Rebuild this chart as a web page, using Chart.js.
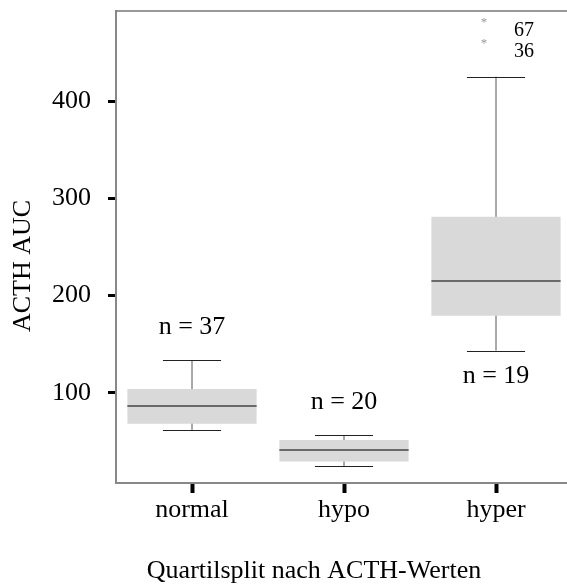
<!DOCTYPE html>
<html>
<head>
<meta charset="utf-8">
<script src="https://cdn.jsdelivr.net/npm/chart.js@4.4.1/dist/chart.umd.min.js"></script>
<style>
    html, body { margin: 0; padding: 0; background: #fff; overflow: hidden; width: 567px; height: 586px; }
    #wrap { width: 576px; height: 586px; }
</style>
</head>
<body>
<div id="wrap"><canvas id="grafico-box"></canvas></div>
<script>
const categorias = ['normal', 'hypo', 'hyper'];
const minimos = [62, 24.8, 143.6];
const quartil1 = [68.5, 29.5, 179.4];
const medianas = [86.7, 41.5, 215];
const quartil3 = [104, 51.7, 281];
const maximos = [134, 56.6, 425];
const contagens = [37, 20, 19];
const posicaoN = ['above', 'above', 'below'];
// ausreißer: [kategorie, wert, fallnummer]
const ausreisser = [[2, 483.2, '67'], [2, 462.2, '36']];
const yTicks = [100, 200, 300, 400];
const tituloX = 'Quartilsplit nach ACTH-Werten';
const tituloY = 'ACTH AUC';

const serif = "'Liberation Serif', 'DejaVu Serif', serif";

// Desenha bigodes, mediana, outliers, rótulos n = ... e títulos dos eixos
const boxExtras = {
    id: 'boxExtras',
    afterDatasetsDraw(chart) {
        const { ctx, chartArea, scales: { x, y } } = chart;
        const meta = chart.getDatasetMeta(0);
        ctx.save();

        // linha superior da moldura
        ctx.strokeStyle = '#777';
        ctx.lineWidth = 1.5;
        ctx.beginPath();
        ctx.moveTo(chartArea.left, chartArea.top);
        ctx.lineTo(chartArea.right, chartArea.top);
        ctx.stroke();

        categorias.forEach((_, i) => {
            const cx = x.getPixelForValue(i);
            const half = meta.data[i].width / 2;
            const cap = half * 0.45;

            ctx.strokeStyle = '#555';
            ctx.lineWidth = 1;
            ctx.beginPath();
            ctx.moveTo(cx, y.getPixelForValue(quartil3[i]));
            ctx.lineTo(cx, y.getPixelForValue(maximos[i]));
            ctx.moveTo(cx, y.getPixelForValue(quartil1[i]));
            ctx.lineTo(cx, y.getPixelForValue(minimos[i]));
            ctx.stroke();

            ctx.strokeStyle = '#222';
            ctx.lineWidth = 1.2;
            ctx.beginPath();
            ctx.moveTo(cx - cap, Math.round(y.getPixelForValue(maximos[i])) + 0.5);
            ctx.lineTo(cx + cap, Math.round(y.getPixelForValue(maximos[i])) + 0.5);
            ctx.moveTo(cx - cap, Math.round(y.getPixelForValue(minimos[i])) + 0.5);
            ctx.lineTo(cx + cap, Math.round(y.getPixelForValue(minimos[i])) + 0.5);
            ctx.stroke();

            ctx.strokeStyle = '#444';
            ctx.lineWidth = 1.5;
            ctx.beginPath();
            ctx.moveTo(cx - half, y.getPixelForValue(medianas[i]));
            ctx.lineTo(cx + half, y.getPixelForValue(medianas[i]));
            ctx.stroke();

            ctx.fillStyle = '#000';
            ctx.font = '26px ' + serif;
            ctx.textAlign = 'center';
            ctx.textBaseline = 'middle';
            const ny = posicaoN[i] === 'above'
                ? y.getPixelForValue(maximos[i]) - 33
                : y.getPixelForValue(minimos[i]) + 26;
            ctx.fillText('n = ' + contagens[i], cx, ny);
        });

        ausreisser.forEach(([cat, valor, nr]) => {
            const px = x.getPixelForValue(cat) - 12;
            const py = y.getPixelForValue(valor);
            ctx.fillStyle = '#999';
            ctx.font = '13px ' + serif;
            ctx.textAlign = 'center';
            ctx.textBaseline = 'middle';
            ctx.fillText('*', px, py + 3);
            ctx.fillStyle = '#000';
            ctx.font = '20px ' + serif;
            ctx.textAlign = 'left';
            ctx.fillText(nr, px + 30, py + 11);
        });

        // títulos dos eixos
        ctx.fillStyle = '#000';
        ctx.font = '26px ' + serif;
        ctx.textAlign = 'center';
        ctx.textBaseline = 'middle';
        ctx.fillText(tituloX, 314, 571);
        ctx.translate(23, 266);
        ctx.rotate(-Math.PI / 2);
        ctx.fillText(tituloY, 0, 0);
        ctx.restore();
    }
};

new Chart(document.getElementById('grafico-box'), {
    type: 'bar',
    data: {
        labels: categorias,
        datasets: [{
            data: quartil1.map((q, i) => [q, quartil3[i]]),
            backgroundColor: '#d9d9d9',
            borderWidth: 0,
            barPercentage: 0.85,
            categoryPercentage: 1
        }]
    },
    options: {
        responsive: true,
        maintainAspectRatio: false,
        animation: false,
        layout: { padding: { top: 11, right: 4, left: 0, bottom: 0 } },
        plugins: {
            legend: { display: false },
            tooltip: { enabled: false }
        },
        scales: {
            x: {
                afterFit: scale => {
                    scale.height = 103;
                    scale.paddingLeft = 0;
                    scale.paddingRight = 0;
                },
                grid: { drawOnChartArea: false, offset: false, tickLength: 10, tickWidth: 4, tickColor: '#000' },
                border: { color: '#888', width: 2 },
                ticks: { color: '#000', font: { family: serif, size: 26 }, padding: 2 }
            },
            y: {
                min: 7.5,
                max: 492.5,
                afterFit: scale => {
                    scale.width = 116;
                    scale.paddingTop = 0;
                    scale.paddingBottom = 0;
                },
                afterBuildTicks: scale => { scale.ticks = yTicks.map(v => ({ value: v })); },
                grid: { drawOnChartArea: false, tickLength: 8, tickWidth: 3, tickColor: '#000' },
                border: { color: '#888', width: 2 },
                ticks: { color: '#000', font: { family: serif, size: 26 }, padding: 17 }
            }
        }
    },
    plugins: [boxExtras]
});
</script>
</body>
</html>
